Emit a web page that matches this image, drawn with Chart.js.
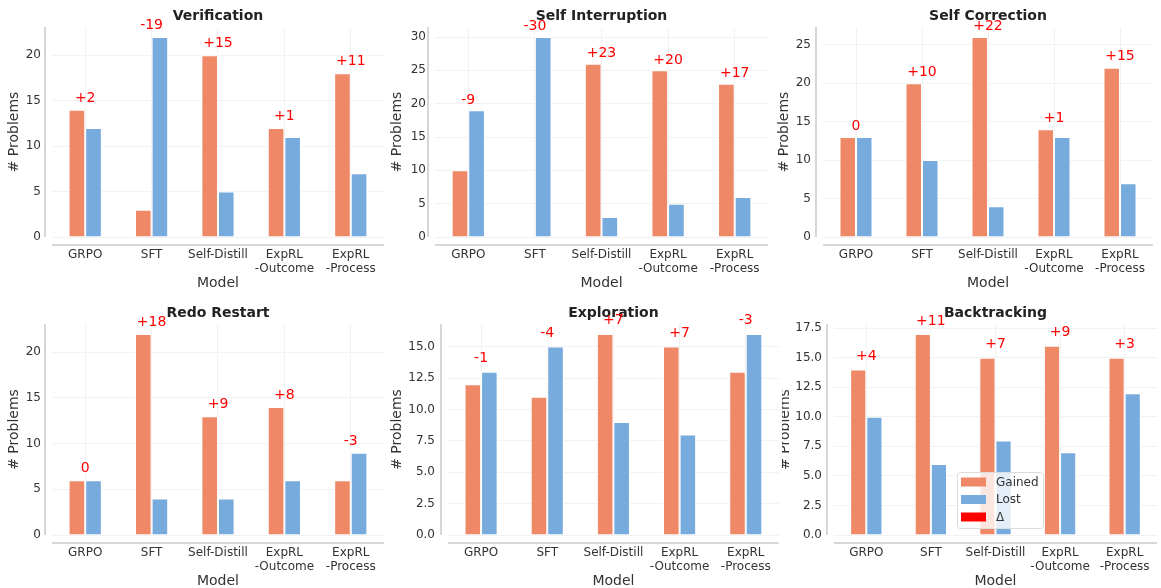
<!DOCTYPE html>
<html>
<head>
<meta charset="utf-8">
<script src="https://cdn.jsdelivr.net/npm/chart.js@4.4.1/dist/chart.umd.min.js"></script>
<style>
  body { margin: 0; background: #fff; width: 1161px; height: 588px; overflow: hidden; position: relative; }
  canvas { position: absolute; }
</style>
</head>
<body>
<script>
// categories (x axis)
var models = ["GRPO", "SFT", "Self-Distill", ["ExpRL", "-Outcome"], ["ExpRL", "-Process"]];

// problems gained / lost per behaviour
var verificationGained = [14, 3, 20, 12, 18];
var verificationLost = [12, 22, 5, 11, 7];
var interruptionGained = [10, 0, 26, 25, 23];
var interruptionLost = [19, 30, 3, 5, 6];
var correctionGained = [13, 20, 26, 14, 22];
var correctionLost = [13, 10, 4, 13, 7];
var restartGained = [6, 22, 13, 14, 6];
var restartLost = [6, 4, 4, 6, 9];
var explorationGained = [12, 11, 16, 15, 13];
var explorationLost = [13, 15, 9, 8, 16];
var backtrackGained = [14, 17, 15, 16, 15];
var backtrackLost = [10, 6, 8, 7, 12];

var gainedColor = "#EE8866";
var lostColor = "#77AADD";
var deltaColor = "#FF0000";
var FONT = "'DejaVu Sans', sans-serif";

var panels = [
  { title: "Verification", gained: verificationGained, lost: verificationLost, step: 5, dec: 0,
    box: [0, 0, 387, 294], yw: 52, pr: 3, xh: 57, tp: [7.6, 2.6], ytp: 6, ytick: 11, xtp: 2 },
  { title: "Self Interruption", gained: interruptionGained, lost: interruptionLost, step: 5, dec: 0,
    box: [387, 0, 385, 294], yw: 48, pr: 4, xh: 57, tp: [7.6, 2.6], ytp: 1.6, ytick: 9, xtp: 2 },
  { title: "Self Correction", gained: correctionGained, lost: correctionLost, step: 5, dec: 0,
    box: [772, 0, 389, 294], yw: 51, pr: 8, xh: 57, tp: [7.6, 2.6], ytp: 3.6, ytick: 12, xtp: 2 },
  { title: "Redo Restart", gained: restartGained, lost: restartLost, step: 5, dec: 0,
    box: [0, 294, 387, 296], yw: 52, pr: 3, xh: 55, tp: [11, 2.2], ytp: 6, ytick: 11, xtp: 0.6 },
  { title: "Exploration", gained: explorationGained, lost: explorationLost, step: 2.5, dec: 1,
    box: [387, 294, 395, 296], yw: 61, pr: 3, xh: 55, tp: [11, 2.2], ytp: 1.6, ytick: 13, xtp: 0.6, z: 2 },
  { title: "Backtracking", gained: backtrackGained, lost: backtrackLost, step: 2.5, dec: 1,
    box: [775, 294, 386, 296], yw: 59, pr: 0, xh: 55, tp: [11, 2.2], ytp: 1.6, ytick: 12, xtp: 0.6, legend: true }
];

function fmtDelta(d) {
  if (d > 0) return "+" + d;
  return String(d);
}

var extras = {
  id: "extras",
  beforeDraw: function (chart) {
    var a = chart.chartArea, ctx = chart.ctx;
    ctx.save();
    ctx.fillStyle = "#fff";
    ctx.fillRect(a.left, a.top, a.right - a.left + 6, a.bottom - a.top);
    ctx.restore();
  },
  afterDatasetsDraw: function (chart) {
    var ctx = chart.ctx, x = chart.scales.x, y = chart.scales.y;
    var g = chart.data.datasets[0].data, l = chart.data.datasets[1].data;
    ctx.save();
    ctx.fillStyle = deltaColor;
    ctx.font = "14px " + FONT;
    ctx.textAlign = "center";
    ctx.textBaseline = "alphabetic";
    for (var i = 0; i < g.length; i++) {
      var top = Math.max(g[i], l[i]);
      ctx.fillText(fmtDelta(g[i] - l[i]), x.getPixelForValue(i), y.getPixelForValue(top + 0.5) - 3.5);
    }
    ctx.restore();
  },
  afterDraw: function (chart, args, opts) {
    var ctx = chart.ctx, a = chart.chartArea;
    ctx.save();
    ctx.strokeStyle = "#cccccc";
    ctx.lineWidth = 1.6;
    ctx.beginPath();
    ctx.moveTo(a.left - 7, a.top);
    ctx.lineTo(a.left - 7, a.bottom);
    ctx.moveTo(a.left, a.bottom + 8);
    ctx.lineTo(a.right, a.bottom + 8);
    ctx.stroke();
    ctx.restore();

    if (opts && opts.legend) {
      var items = [
        { text: chart.data.datasets[0].label, color: gainedColor },
        { text: chart.data.datasets[1].label, color: lostColor },
        { text: "Δ", color: deltaColor }
      ];
      var lx = a.left + 123, ly = a.bottom - 63, lw = 86, lh = 56;
      ctx.save();
      ctx.fillStyle = "rgba(255,255,255,0.8)";
      ctx.strokeStyle = "#dddddd";
      ctx.lineWidth = 1;
      ctx.beginPath();
      ctx.roundRect(lx + 0.5, ly + 0.5, lw, lh, 3);
      ctx.fill();
      ctx.stroke();
      ctx.font = "12px " + FONT;
      ctx.textBaseline = "middle";
      ctx.textAlign = "left";
      items.forEach(function (it, k) {
        var cy = ly + 10 + k * 17.5;
        ctx.fillStyle = it.color;
        ctx.fillRect(lx + 4, cy - 4.5, 25, 9);
        ctx.fillStyle = "#333";
        ctx.fillText(it.text, lx + 39, cy + 0.5);
      });
      ctx.restore();
    }
  }
};

panels.forEach(function (p, idx) {
  var cv = document.createElement("canvas");
  cv.width = p.box[2];
  cv.height = p.box[3];
  cv.style.left = p.box[0] + "px";
  cv.style.top = p.box[1] + "px";
  cv.style.zIndex = p.z || 1;
  document.body.appendChild(cv);

  var yMax = Math.max.apply(null, p.gained.concat(p.lost)) * 1.05;

  new Chart(cv, {
    type: "bar",
    data: {
      labels: models,
      datasets: [
        { label: "Gained", data: p.gained, backgroundColor: gainedColor, borderColor: "#fff", borderWidth: 1,
          categoryPercentage: 0.5, barPercentage: 1.0 },
        { label: "Lost", data: p.lost, backgroundColor: lostColor, borderColor: "#fff", borderWidth: 1,
          categoryPercentage: 0.5, barPercentage: 1.0 }
      ]
    },
    options: {
      responsive: false,
      animation: false,
      layout: { padding: { left: 0, right: p.pr, top: 0, bottom: 0 } },
      plugins: {
        legend: { display: false },
        tooltip: { enabled: false },
        title: {
          display: true, text: p.title, fullSize: false, color: "#222",
          font: { family: FONT, size: 14, weight: "bold" },
          padding: { top: p.tp[0], bottom: p.tp[1] }
        },
        extras: { legend: !!p.legend }
      },
      scales: {
        x: {
          offset: true,
          grid: { offset: false, color: "#f2f2f2", drawTicks: false },
          border: { display: false },
          ticks: { color: "#333", padding: 11, autoSkip: false, maxRotation: 0,
            font: { family: FONT, size: 12, lineHeight: 1.15 } },
          title: { display: true, text: "Model", color: "#333", font: { family: FONT, size: 14 },
            padding: { top: 0, bottom: p.xtp } },
          afterFit: function (s) { s.height = p.xh; }
        },
        y: {
          min: 0, max: yMax,
          grid: { color: "#f2f2f2", drawTicks: false },
          border: { display: false },
          ticks: { stepSize: p.step, includeBounds: false, color: "#333", padding: p.ytick,
            font: { family: FONT, size: 12 },
            callback: function (v) { return v.toFixed(p.dec); } },
          title: { display: true, text: "# Problems", color: "#333", font: { family: FONT, size: 14 },
            padding: { top: p.ytp, bottom: 0 } },
          afterFit: function (s) { s.width = p.yw; }
        }
      }
    },
    plugins: [extras]
  });
});
</script>
</body>
</html>
